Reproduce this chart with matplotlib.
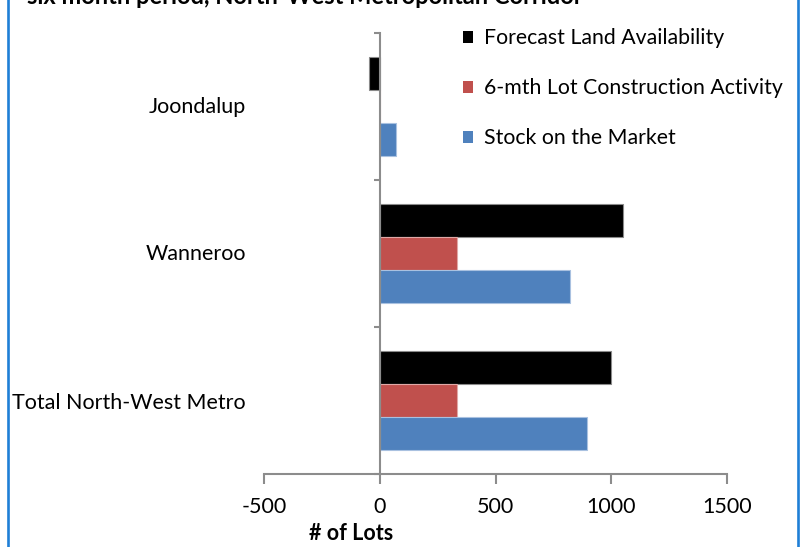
import matplotlib
matplotlib.use("Agg")
import matplotlib.pyplot as plt
from matplotlib.patches import Rectangle, Patch
import numpy as np

plt.rcParams['font.family'] = ['Lato', 'DejaVu Sans']

# Data (lots), categories listed top to bottom
categories = ["Joondalup", "Wanneroo", "Total North-West Metro"]
forecast_land = [-45, 1050, 1000]
lot_construction = [0, 335, 335]
stock_market = [70, 820, 895]

series_names = ["Forecast Land Availability",
                "6-mth Lot Construction Activity",
                "Stock on the Market"]
series_colors = ["#000000", "#C0504D", "#4F81BD"]
series_edges = ["#8a8a8a", "#e0a8a6", "#a9c1e0"]

x_ticks = [-500, 0, 500, 1000, 1500]
title_text = "six month period, North-West Metropolitan Corridor"
x_title = "# of Lots"

W, H = 801, 547
fig = plt.figure(figsize=(W / 100, H / 100), dpi=100)
ax = fig.add_axes([264 / W, 1 - 474 / H, 463 / W, 441 / H])

fs = 15.5
axis_gray = "#8c8c8c"
bar_h = 0.2245
pos = np.arange(len(categories))
all_series = [forecast_land, lot_construction, stock_market]
for i, (vals, c, ec) in enumerate(zip(all_series, series_colors, series_edges)):
    ax.barh(pos + (i - 1) * bar_h, vals, height=bar_h, color=c,
            edgecolor=ec, linewidth=0.8)

ax.set_xlim(x_ticks[0], x_ticks[-1])
ax.set_ylim(len(categories) - 0.5, -0.5)

for s in ["top", "right"]:
    ax.spines[s].set_visible(False)
ax.spines["left"].set_position(("data", 0))
for s in ["left", "bottom"]:
    ax.spines[s].set_color(axis_gray)
    ax.spines[s].set_linewidth(1.5)

ax.set_xticks(x_ticks)
ax.set_xticklabels([str(t) for t in x_ticks])
ax.tick_params(axis="x", direction="out", length=7.5, width=1.5,
               color=axis_gray, labelsize=fs, pad=9, labelcolor="#000000")

ax.set_yticks([])
ax.set_yticks(np.arange(-0.5, len(categories), 1.0), minor=True)
ax.tick_params(axis="y", which="minor", direction="out", length=4.5,
               width=1.5, color=axis_gray, labelleft=False)

label_shift = [0, 0.005, 0.02]
for p, name, d in zip(pos, categories, label_shift):
    ax.text(-0.039, p + d, name, transform=ax.get_yaxis_transform(),
            ha="right", va="center", fontsize=fs, color="#000000")

handles = [Patch(facecolor=c, edgecolor="none") for c in series_colors]
leg = fig.legend(handles, series_names, loc="upper left",
                 bbox_to_anchor=(454 / W, 1 - 20 / H), frameon=False,
                 fontsize=15.3, handlelength=0.5, handleheight=0.5,
                 handletextpad=0.5, labelspacing=1.41, borderaxespad=0)

fig.text(351 / W, 1 - 534 / H, x_title, ha="center", va="center",
         fontsize=fs, fontweight="bold")
fig.text(27 / W, 1 - 4 / H, title_text, ha="left", va="baseline",
         fontsize=17, fontweight="bold")

fig.add_artist(Rectangle((8 / W, -0.1), (798 - 8) / W, 1.2, fill=False,
                         edgecolor="#1f7fd6", linewidth=1.9,
                         transform=fig.transFigure))

fig.savefig("out.png", dpi=100)
